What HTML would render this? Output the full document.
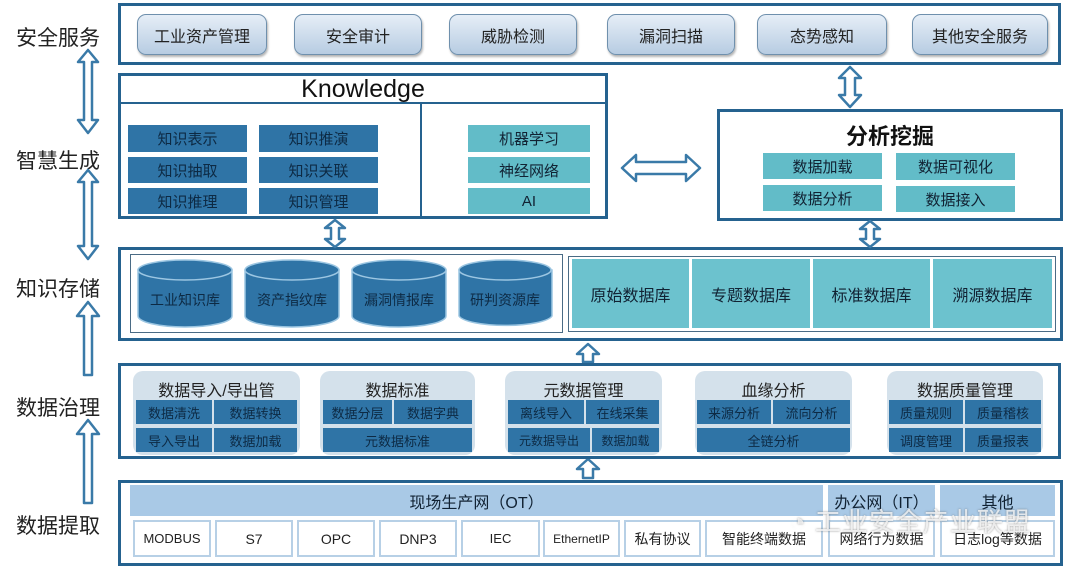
<!DOCTYPE html>
<html><head><meta charset="utf-8"><style>
*{margin:0;padding:0;box-sizing:border-box}
body{width:1080px;height:567px;background:#fff;position:relative;overflow:hidden;font-family:"Liberation Sans","Noto Sans CJK SC",sans-serif;color:#222}
.a{position:absolute}
.frame{position:absolute;border:3px solid #25628f;background:#fff}
.lab{position:absolute;left:8px;width:100px;font-size:21px;text-align:center;color:#222}
.btn{position:absolute;top:14px;height:41px;border:1px solid #6f90ad;border-radius:9px;background:linear-gradient(#e6eef7,#b7cce2);box-shadow:1px 2px 2px rgba(0,0,0,.3);font-size:16px;display:flex;align-items:center;justify-content:center}
.d{position:absolute;background:#2f74a6;color:#0d2a44;display:flex;align-items:center;justify-content:center;font-size:15px}
.t{position:absolute;background:#62bcc8;color:#123;display:flex;align-items:center;justify-content:center;font-size:15px}
.grp{position:absolute;top:371px;height:84px;background:#d4e1eb;border-radius:10px}
.gt{position:absolute;left:0;right:0;top:6px;text-align:center;font-size:16px}
.c{position:absolute;top:520px;height:37px;background:#fff;border:2px solid #b7d0e6;display:flex;align-items:center;justify-content:center;font-size:13px}
</style></head><body>
<div class="lab" style="top:22px">安全服务</div>
<div class="lab" style="top:145px">智慧生成</div>
<div class="lab" style="top:273px">知识存储</div>
<div class="lab" style="top:392px">数据治理</div>
<div class="lab" style="top:510px">数据提取</div>

<div class="frame" style="left:118px;top:3px;width:943px;height:62px"></div>
<div class="btn" style="left:137px;width:130px">工业资产管理</div>
<div class="btn" style="left:294px;width:128px">安全审计</div>
<div class="btn" style="left:449px;width:128px">威胁检测</div>
<div class="btn" style="left:607px;width:128px">漏洞扫描</div>
<div class="btn" style="left:757px;width:130px">态势感知</div>
<div class="btn" style="left:912px;width:136px">其他安全服务</div>

<div class="frame" style="left:118px;top:73px;width:490px;height:146px"></div>
<div class="a" style="left:120px;top:102px;width:486px;height:2px;background:#25628f"></div>
<div class="a" style="left:420px;top:103px;width:2px;height:114px;background:#25628f"></div>
<div class="a" style="left:120px;top:75px;width:486px;text-align:center;font-size:25px;color:#111">Knowledge</div>
<div class="d" style="left:128px;top:125px;width:119px;height:27px">知识表示</div>
<div class="d" style="left:128px;top:157px;width:119px;height:26px">知识抽取</div>
<div class="d" style="left:128px;top:188px;width:119px;height:26px">知识推理</div>
<div class="d" style="left:259px;top:125px;width:119px;height:27px">知识推演</div>
<div class="d" style="left:259px;top:157px;width:119px;height:26px">知识关联</div>
<div class="d" style="left:259px;top:188px;width:119px;height:26px">知识管理</div>
<div class="t" style="left:468px;top:125px;width:122px;height:27px">机器学习</div>
<div class="t" style="left:468px;top:157px;width:122px;height:26px">神经网络</div>
<div class="t" style="left:468px;top:188px;width:122px;height:26px">AI</div>

<div class="frame" style="left:717px;top:109px;width:346px;height:112px"></div>
<div class="a" style="left:717px;top:119px;width:346px;text-align:center;font-size:22px;font-weight:bold;color:#111">分析挖掘</div>
<div class="t" style="left:763px;top:153px;width:119px;height:26px">数据加载</div>
<div class="t" style="left:896px;top:153px;width:119px;height:27px">数据可视化</div>
<div class="t" style="left:763px;top:185px;width:119px;height:26px">数据分析</div>
<div class="t" style="left:896px;top:186px;width:119px;height:26px">数据接入</div>

<div class="frame" style="left:118px;top:247px;width:945px;height:94px"></div>
<div class="a" style="left:130px;top:254px;width:433px;height:79px;border:1px solid #4a6b85"></div>
<div class="a" style="left:568px;top:256px;width:488px;height:76px;border:1px solid #4a6b85;background:#fff"></div>
<div class="t" style="left:572px;top:259px;width:117px;height:69px;font-size:16px;background:#6cc2ce">原始数据库</div>
<div class="t" style="left:692px;top:259px;width:118px;height:69px;font-size:16px;background:#6cc2ce">专题数据库</div>
<div class="t" style="left:813px;top:259px;width:117px;height:69px;font-size:16px;background:#6cc2ce">标准数据库</div>
<div class="t" style="left:933px;top:259px;width:119px;height:69px;font-size:16px;background:#6cc2ce">溯源数据库</div>
<svg class="a" style="left:0;top:0" width="1080" height="567">
<g fill="#2f74a6" stroke="#9cc6e2" stroke-width="1.5">
<path d="M138,270 v46 a47,11 0 0 0 94,0 v-46 z"/><ellipse cx="185" cy="270" rx="47" ry="10"/>
<path d="M245,270 v46 a47,11 0 0 0 94,0 v-46 z"/><ellipse cx="292" cy="270" rx="47" ry="10"/>
<path d="M352,270 v46 a47,11 0 0 0 94,0 v-46 z"/><ellipse cx="399" cy="270" rx="47" ry="10"/>
<path d="M459,270 v46 a47,11 0 0 0 93,0 v-46 z"/><ellipse cx="505" cy="270" rx="46" ry="10"/>
</g>
<g font-size="14" fill="#0d2a44" text-anchor="middle" font-family="Liberation Sans, Noto Sans CJK SC, sans-serif">
<text x="185" y="305">工业知识库</text><text x="292" y="305">资产指纹库</text><text x="399" y="305">漏洞情报库</text><text x="505" y="305">研判资源库</text>
</g>
<g fill="#fff" stroke="#3a7aa8" stroke-width="2.5" stroke-linejoin="round">
<path d="M88,50 L98,62 L92,62 L92,120 L98,120 L88,133 L78,120 L84,120 L84,62 L78,62 Z"/>
<path d="M88,170 L98,182 L92,182 L92,246 L98,246 L88,259 L78,246 L84,246 L84,182 L78,182 Z"/>
<path d="M88,302 L99,316 L92,316 L92,375 L84,375 L84,316 L77,316 Z"/>
<path d="M88,420 L99,434 L92,434 L92,503 L84,503 L84,434 L77,434 Z"/>
<path d="M622,168 L636,155 L636,162 L686,162 L686,155 L700,168 L686,181 L686,174 L636,174 L636,181 Z"/>
<path d="M850,67 L861,78 L855,78 L855,95 L861,95 L850,107 L839,95 L845,95 L845,78 L839,78 Z"/>
<path d="M335,220 L345,228 L339,228 L339,239 L345,239 L335,247 L325,239 L331,239 L331,228 L325,228 Z"/>
<path d="M870,221 L880,229 L874,229 L874,239 L880,239 L870,247 L860,239 L866,239 L866,229 L860,229 Z"/>
<path d="M588,344 L599,354 L593,354 L593,362 L583,362 L583,354 L577,354 Z"/>
<path d="M588,459 L599,469 L593,469 L593,478 L583,478 L583,469 L577,469 Z"/>
</g>
</svg>

<div class="frame" style="left:118px;top:363px;width:943px;height:96px"></div>
<div class="grp" style="left:133px;width:167px"><div class="gt">数据导入/导出管</div></div>
<div class="d" style="left:136px;top:400px;width:76px;height:24px;font-size:13px">数据清洗</div>
<div class="d" style="left:214px;top:400px;width:83px;height:24px;font-size:13px">数据转换</div>
<div class="d" style="left:136px;top:428px;width:76px;height:24px;font-size:13px">导入导出</div>
<div class="d" style="left:214px;top:428px;width:83px;height:24px;font-size:13px">数据加载</div>
<div class="grp" style="left:320px;width:155px"><div class="gt">数据标准</div></div>
<div class="d" style="left:323px;top:400px;width:69px;height:24px;font-size:13px">数据分层</div>
<div class="d" style="left:394px;top:400px;width:78px;height:24px;font-size:13px">数据字典</div>
<div class="d" style="left:323px;top:428px;width:149px;height:24px;font-size:13px">元数据标准</div>
<div class="grp" style="left:505px;width:157px"><div class="gt">元数据管理</div></div>
<div class="d" style="left:508px;top:400px;width:76px;height:24px;font-size:13px">离线导入</div>
<div class="d" style="left:586px;top:400px;width:73px;height:24px;font-size:13px">在线采集</div>
<div class="d" style="left:508px;top:428px;width:82px;height:24px;font-size:12px">元数据导出</div>
<div class="d" style="left:592px;top:428px;width:67px;height:24px;font-size:12px">数据加载</div>
<div class="grp" style="left:695px;width:157px"><div class="gt">血缘分析</div></div>
<div class="d" style="left:697px;top:400px;width:74px;height:24px;font-size:13px">来源分析</div>
<div class="d" style="left:773px;top:400px;width:77px;height:24px;font-size:13px">流向分析</div>
<div class="d" style="left:697px;top:428px;width:153px;height:24px;font-size:13px">全链分析</div>
<div class="grp" style="left:887px;width:156px"><div class="gt">数据质量管理</div></div>
<div class="d" style="left:889px;top:400px;width:74px;height:24px;font-size:13px">质量规则</div>
<div class="d" style="left:965px;top:400px;width:76px;height:24px;font-size:13px">质量稽核</div>
<div class="d" style="left:889px;top:428px;width:74px;height:24px;font-size:13px">调度管理</div>
<div class="d" style="left:965px;top:428px;width:76px;height:24px;font-size:13px">质量报表</div>

<div class="frame" style="left:118px;top:480px;width:945px;height:86px"></div>
<div class="t" style="left:130px;top:485px;width:693px;height:31px;background:#a9c9e6;font-size:16px">现场生产网（OT）</div>
<div class="t" style="left:828px;top:485px;width:107px;height:31px;background:#a9c9e6;font-size:16px">办公网（IT）</div>
<div class="t" style="left:940px;top:485px;width:115px;height:31px;background:#a9c9e6;font-size:16px">其他</div>
<div class="c" style="left:133px;width:78px">MODBUS</div>
<div class="c" style="left:215px;width:78px;font-size:14px">S7</div>
<div class="c" style="left:297px;width:78px;font-size:14px">OPC</div>
<div class="c" style="left:379px;width:78px;font-size:14px">DNP3</div>
<div class="c" style="left:461px;width:79px">IEC</div>
<div class="c" style="left:543px;width:77px;font-size:12px">EthernetIP</div>
<div class="c" style="left:624px;width:77px;font-size:14px">私有协议</div>
<div class="c" style="left:705px;width:118px;font-size:14px">智能终端数据</div>
<div class="c" style="left:828px;width:107px;font-size:14px">网络行为数据</div>
<div class="c" style="left:940px;width:115px;font-size:14px">日志log等数据</div>
<div class="a" style="left:790px;top:502px;font-size:26px;color:rgba(255,255,255,.75);text-shadow:0 0 2px rgba(80,80,80,.6);letter-spacing:1px">◔ 工业安全产业联盟</div>
</body></html>
